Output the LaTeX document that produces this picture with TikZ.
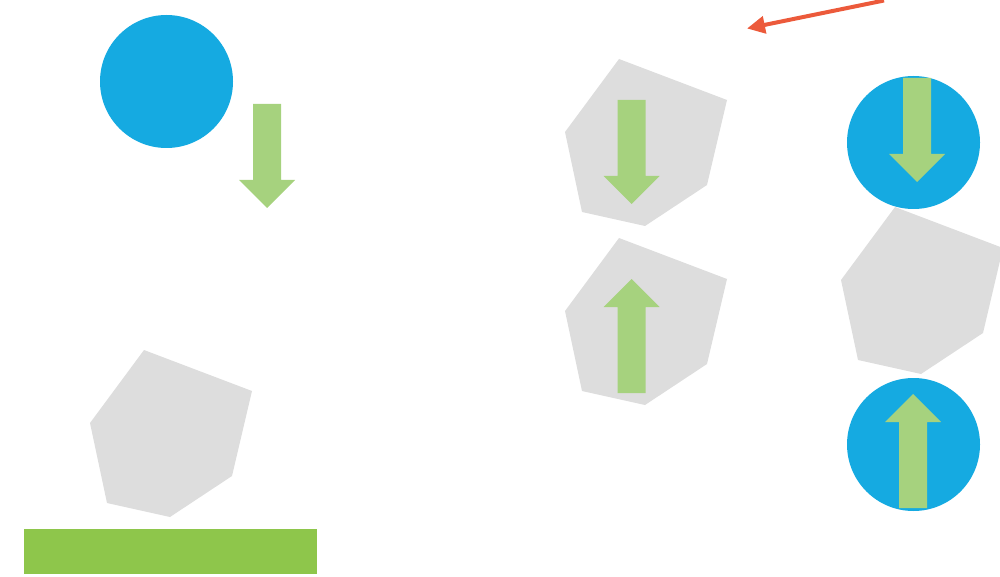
\documentclass[tikz,border=0pt]{standalone}
\usetikzlibrary{arrows.meta}
\definecolor{ballblue}{HTML}{15AAE1}
\definecolor{arrowgreen}{HTML}{A6D27E}
\definecolor{rockgray}{HTML}{DDDDDD}
\definecolor{groundgreen}{HTML}{8EC64B}
\definecolor{forcered}{HTML}{EC5A3B}
\tikzset{
  ball/.style={fill=ballblue, draw=none},
  rock/.style={fill=rockgray, draw=none},
  greenarrow/.style={fill=arrowgreen, draw=none},
  ground/.style={fill=groundgreen, draw=none},
  redarrow/.style={draw=forcered, line width=4pt, -{Triangle[length=18pt,width=17pt]}},
}
% heptagon-like rock with top vertex at (#1,#2)
\newcommand{\myrock}[2]{%
  \fill[rock] (#1,#2) -- ++(108,41) -- ++(-20,85) -- ++(-62,41) -- ++(-63,-14) -- ++(-17,-80) -- cycle;}
% down arrow: shaft left x, shaft top y
\newcommand{\mydownarrow}[2]{%
  \fill[greenarrow] (#1,#2) -- ++(28,0) -- ++(0,76) -- ++(14,0) -- ++(-28,28) -- ++(-28,-28) -- ++(14,0) -- cycle;}
% up arrow: shaft left x, shaft bottom y
\newcommand{\myuparrow}[2]{%
  \fill[greenarrow] (#1,#2) -- ++(28,0) -- ++(0,-86) -- ++(14,0) -- ++(-28,-28) -- ++(-28,28) -- ++(14,0) -- cycle;}
\begin{document}
\begin{tikzpicture}[x=1pt,y=-1pt]
\useasboundingbox (0,0) rectangle (1000,577);
% left scene
\fill[ball] (166.5,81.5) circle (66.5);
\mydownarrow{253}{104}
\myrock{144}{350}
\fill[ground] (24,529) rectangle (317,574);
% middle
\myrock{619}{59}
\mydownarrow{617.5}{100}
\myrock{619}{238}
\myuparrow{617.5}{393}
% right
\fill[ball] (913.5,142.5) circle (66.5);
\mydownarrow{903}{78}
\myrock{895}{207}
\fill[ball] (913.5,444.5) circle (66.5);
\myuparrow{899}{508}
% red force arrow
\coordinate (redstart) at (884,0.5);
\coordinate (redend) at (747,28.5);
\draw[redarrow] (redstart) -- (redend);
\end{tikzpicture}
\end{document}
